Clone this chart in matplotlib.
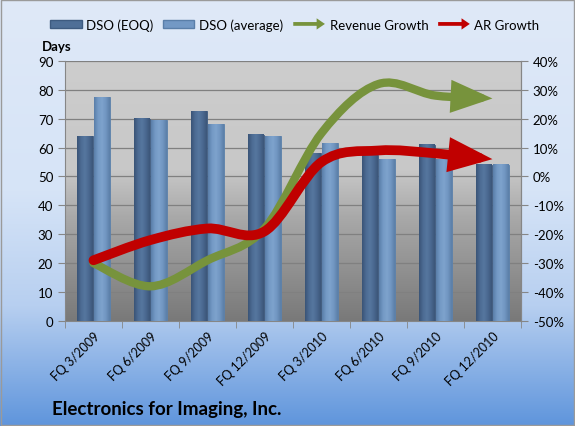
import matplotlib
matplotlib.use('Agg')
import matplotlib.pyplot as plt
import numpy as np
from matplotlib.path import Path
from matplotlib.patches import FancyArrowPatch, FancyArrow, Patch, Rectangle
from matplotlib.legend_handler import HandlerPatch
from matplotlib.colors import LinearSegmentedColormap
from matplotlib.ticker import FuncFormatter

plt.rcParams['font.family'] = ['Lato', 'DejaVu Sans']

categories = ['FQ 3/2009', 'FQ 6/2009', 'FQ 9/2009', 'FQ 12/2009',
              'FQ 3/2010', 'FQ 6/2010', 'FQ 9/2010', 'FQ 12/2010']
dso_eoq = [64, 70, 72.5, 64.5, 58, 57.5, 61, 54]
dso_avg = [77.5, 69.5, 68, 64, 61.5, 56, 56, 54]
revenue_growth = [-30, -38, -29, -18, 15, 32, 28, 27]
ar_growth = [-29, -22, -18, -19, 5, 9, 8, 6]

eoq_color = '#4f6f97'
avg_color = '#7399c5'
rev_color = '#77933c'
ar_color = '#c00000'


def smooth_path(xs, ys):
    # catmull-rom style smoothing like excel's smoothed lines
    pts = np.column_stack([xs, ys]).astype(float)
    ext = np.vstack([pts[0], pts, pts[-1]])
    verts = [pts[0]]
    codes = [Path.MOVETO]
    for i in range(len(pts) - 1):
        p0, p1, p2, p3 = ext[i], ext[i + 1], ext[i + 2], ext[i + 3]
        verts += [p1 + (p2 - p0) / 6, p2 - (p3 - p1) / 6, p2]
        codes += [Path.CURVE4] * 3
    return Path(verts, codes)


class HandlerArrow(HandlerPatch):
    def create_artists(self, legend, orig_handle, xdescent, ydescent,
                       width, height, fontsize, trans):
        a = FancyArrow(-xdescent, height / 2 - ydescent, width, 0,
                       width=height * 0.5, head_width=height * 1.5,
                       head_length=height * 1.1, length_includes_head=True,
                       color=orig_handle.get_facecolor(), lw=0)
        a.set_transform(trans)
        return [a]


def shade_bars(ax, bars, cmap):
    # cylinder look: horizontal gradient inside every bar
    ramp = np.linspace(0, 1, 64).reshape(1, -1)
    for b in bars:
        x0, w_, h = b.get_x(), b.get_width(), b.get_height()
        ax.imshow(ramp, aspect='auto', cmap=cmap, extent=[x0, x0 + w_, 0, h],
                  zorder=3.1)


fig = plt.figure(figsize=(5.75, 4.27), dpi=100)

# background gradient of the whole chart
bg = fig.add_axes([0, 0, 1, 1], zorder=-10)
bg.axis('off')
grad = np.linspace(0, 1, 256).reshape(-1, 1)
bg_cmap = LinearSegmentedColormap.from_list(
    'bg', [(0, '#dfe9f8'), (0.45, '#d6e4f7'), (0.72, '#b7cff0'), (1, '#5f95dc')])
bg.imshow(grad, aspect='auto', cmap=bg_cmap, extent=[0, 1, 0, 1], origin='upper')
bg.add_patch(Rectangle((0.002, 0.003), 0.996, 0.994, fill=False,
                       edgecolor='#9a9a9a', lw=1))
bg.set_xlim(0, 1)
bg.set_ylim(0, 1)

ax = fig.add_axes([0.113, 0.246, 0.793, 0.609])
x = np.arange(len(categories))

plot_cmap = LinearSegmentedColormap.from_list(
    'pa', [(0, '#cdcdcd'), (0.42, '#c8c8c8'), (0.6, '#a9a9a9'), (1, '#797979')])
ax.imshow(grad, aspect='auto', cmap=plot_cmap, extent=[-0.5, 7.5, 0, 90],
          origin='upper', zorder=0)

w = 0.28
bars1 = ax.bar(x - 0.145, dso_eoq, w, color=eoq_color, edgecolor='#3e5b80',
               lw=0.6, zorder=3)
bars2 = ax.bar(x + 0.145, dso_avg, w, color=avg_color, edgecolor='#5a7fa9',
               lw=0.6, zorder=3)
eoq_cmap = LinearSegmentedColormap.from_list(
    'eoq', ['#3a5477', '#4c6b93', '#56779f', '#4a6890', '#3c5679'])
avg_cmap = LinearSegmentedColormap.from_list(
    'avg', ['#5a7ea9', '#7399c5', '#7ea3cd', '#7196c1', '#5b7fa8'])
shade_bars(ax, bars1, eoq_cmap)
shade_bars(ax, bars2, avg_cmap)

ax.set_xlim(-0.5, 7.5)
ax.set_ylim(0, 90)
ax.set_yticks(range(0, 91, 10))
ax.set_axisbelow(True)
ax.yaxis.grid(True, color='#808080', lw=0.9)
ax.set_xticks(x)
ax.set_xticklabels(categories, rotation=45, ha='right', rotation_mode='anchor',
                   fontsize=9)
ax.set_xticks(np.arange(-0.5, 8, 1), minor=True)
ax.tick_params(axis='x', which='major', length=0, pad=6)
ax.tick_params(axis='x', which='minor', length=5, color='#868686')
ax.tick_params(axis='y', length=5, color='#868686', labelsize=9.5)
for s in ['left', 'right', 'bottom']:
    ax.spines[s].set_color('#868686')
ax.spines['top'].set_visible(False)

ax2 = ax.twinx()
ax2.set_ylim(-50, 40)
ax2.set_yticks(range(-50, 41, 10))
ax2.yaxis.set_major_formatter(FuncFormatter(lambda v, p: f'{v:.0f}%'))
ax2.tick_params(axis='y', length=5, color='#868686', labelsize=9.5)
for s in ax2.spines:
    ax2.spines[s].set_visible(s == 'right')
ax2.spines['right'].set_color('#868686')

rev = FancyArrowPatch(path=smooth_path(x, revenue_growth),
                      arrowstyle='-|>,head_length=1.9,head_width=0.75',
                      mutation_scale=10, lw=6, color=rev_color,
                      capstyle='round', joinstyle='miter', zorder=4)
ar = FancyArrowPatch(path=smooth_path(x, ar_growth),
                     arrowstyle='-|>,head_length=1.9,head_width=0.75',
                     mutation_scale=10, lw=7, color=ar_color,
                     capstyle='round', joinstyle='miter', zorder=5)
ax2.add_patch(rev)
ax2.add_patch(ar)
ax2.set_xlim(-0.5, 7.5)
ax2.set_ylim(-50, 40)

# legend: one entry per legend so each sits where the original has it
h_eoq = Patch(facecolor=eoq_color, edgecolor='#3e5b80')
h_avg = Patch(facecolor=avg_color, edgecolor='#5a7fa9')
h_rev = Patch(facecolor=rev_color)
h_ar = Patch(facecolor=ar_color)
entries = [(h_eoq, 'DSO (EOQ)', 0.087), (h_avg, 'DSO (average)', 0.283),
           (h_rev, 'Revenue Growth', 0.510), (h_ar, 'AR Growth', 0.762)]
for h, lab, xpos in entries:
    leg = fig.legend([h], [lab], loc='center left', bbox_to_anchor=(xpos, 0.94),
                     frameon=False, fontsize=9.5, handlelength=2.4,
                     handleheight=0.5, handletextpad=0.35, borderpad=0,
                     borderaxespad=0,
                     handler_map={h_rev: HandlerArrow(), h_ar: HandlerArrow()})

fig.text(0.099, 0.89, 'Days', fontsize=9.5, fontweight='bold', ha='center', va='center')
fig.text(0.09, 0.042, 'Electronics for Imaging, Inc.', fontsize=13.5,
         fontweight='bold', ha='left', va='center')

fig.savefig('out.png', dpi=100)
